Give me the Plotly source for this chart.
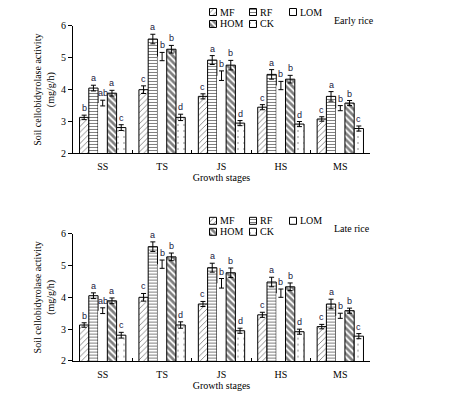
import plotly.graph_objects as go

stages = ["SS", "TS", "JS", "HS", "MS"]
treatments = ["MF", "RF", "LOM", "HOM", "CK"]

# Early rice
early_MF = [3.13, 4.00, 3.79, 3.45, 3.08]
early_RF = [4.05, 5.59, 4.93, 4.48, 3.79]
early_LOM = [3.58, 5.04, 4.44, 4.13, 3.42]
early_HOM = [3.89, 5.27, 4.77, 4.33, 3.58]
early_CK = [2.81, 3.13, 2.95, 2.92, 2.78]
early_MF_err = [0.07, 0.12, 0.08, 0.08, 0.07]
early_RF_err = [0.09, 0.15, 0.14, 0.15, 0.15]
early_LOM_err = [0.09, 0.13, 0.15, 0.13, 0.08]
early_HOM_err = [0.09, 0.12, 0.15, 0.12, 0.08]
early_CK_err = [0.09, 0.10, 0.08, 0.08, 0.08]

# Late rice
late_MF = [3.13, 4.00, 3.79, 3.45, 3.08]
late_RF = [4.05, 5.59, 4.93, 4.48, 3.79]
late_LOM = [3.58, 5.04, 4.44, 4.13, 3.42]
late_HOM = [3.89, 5.27, 4.77, 4.33, 3.58]
late_CK = [2.81, 3.13, 2.95, 2.92, 2.78]
late_MF_err = [0.07, 0.12, 0.08, 0.08, 0.07]
late_RF_err = [0.09, 0.15, 0.14, 0.15, 0.15]
late_LOM_err = [0.09, 0.13, 0.15, 0.13, 0.08]
late_HOM_err = [0.09, 0.12, 0.15, 0.12, 0.08]
late_CK_err = [0.09, 0.10, 0.08, 0.08, 0.08]

# Significance letters
letters_MF = ["b", "c", "c", "c", "c"]
letters_RF = ["a", "a", "a", "a", "a"]
letters_LOM = ["ab", "b", "b", "b", "b"]
letters_HOM = ["a", "b", "b", "b", "b"]
letters_CK = ["c", "d", "d", "d", "c"]

y_ticks = [2, 3, 4, 5, 6]
panel_labels = ["Early rice", "Late rice"]

early = [early_MF, early_RF, early_LOM, early_HOM, early_CK]
early_err = [early_MF_err, early_RF_err, early_LOM_err, early_HOM_err, early_CK_err]
late = [late_MF, late_RF, late_LOM, late_HOM, late_CK]
late_err = [late_MF_err, late_RF_err, late_LOM_err, late_HOM_err, late_CK_err]
letters = [letters_MF, letters_RF, letters_LOM, letters_HOM, letters_CK]

SERIF = "Liberation Serif, Times New Roman, serif"
SANS = "Liberation Sans, Arial, sans-serif"

pattern_shape = {"MF": "/", "RF": "-", "LOM": "", "HOM": "\\", "CK": "."}
pattern_size = {"MF": 4, "RF": 3, "LOM": 4, "HOM": 4.5, "CK": 6}
pattern_solid = {"MF": 0.22, "RF": 0.34, "LOM": 0.2, "HOM": 0.6, "CK": 0.06}
edge_width = {"MF": 1, "RF": 1, "LOM": 0, "HOM": 1, "CK": 1}


def marker_for(t):
    m = dict(color="white", line=dict(color="black" if edge_width[t] else "white",
                                      width=edge_width[t]))
    if pattern_shape[t]:
        m["pattern"] = dict(shape=pattern_shape[t], fgcolor="black", bgcolor="white",
                            size=pattern_size[t], solidity=pattern_solid[t])
    return m


# the page body adds an 8 px offset; the figure is sized so the window shows it like the reference
OFF = 8
W, H = 470 - OFF, 398 - OFF
WIN_LEFT, WIN_RIGHT = 73, 370          # plot-area x extent in window px
WIN_TOP, WIN_BOTTOM = 8, 361.3         # plot-area y extent in window px
ML = WIN_LEFT - OFF
MR = W - (WIN_RIGHT - OFF)
MT = WIN_TOP - OFF
MB = H - (WIN_BOTTOM - OFF)
PW = W - ML - MR
PH = H - MT - MB


def dom(top_px, bottom_px):
    return [(WIN_BOTTOM - bottom_px) / PH, (WIN_BOTTOM - top_px) / PH]


top_dom = dom(26, 153.5)
bot_dom = dom(233.8, 361.3)

fig = go.Figure()

panels = [
    ("x", "y", early, early_err, [12, 24], 21),
    ("x2", "y2", late, late_err, [221, 232], 229),
]

for xa, ya, vals, errs, rows, lab_y in panels:
    for i, t in enumerate(treatments):
        fig.add_trace(go.Bar(
            x=stages, y=vals[i], name=t, xaxis=xa, yaxis=ya,
            marker=marker_for(t), showlegend=False,
            error_y=dict(type="data", array=errs[i], color="black", thickness=1, width=2.5),
        ))

# bar offsets for letters
cat_w = PW / len(stages)
bargap = 0.22
bar_w = cat_w * (1 - bargap) / len(treatments)
annotations = []
for xa, ya, vals, errs, rows, lab_y in panels:
    for i, t in enumerate(treatments):
        for j, s in enumerate(stages):
            annotations.append(dict(
                x=s, y=vals[i][j] + errs[i][j], xref=xa, yref=ya,
                text=letters[i][j], showarrow=False, yanchor="bottom",
                xshift=(i - 2) * bar_w, yshift=0,
                font=dict(family=SANS, size=9, color="#202040"),
            ))

# Legend keys drawn on an invisible overlay axis measured in window pixels
leg_cols = [213, 253, 293]
KEY = 7
for p, (xa, ya, vals, errs, rows, lab_y) in enumerate(panels):
    for i, t in enumerate(treatments):
        cx = leg_cols[i % 3]
        cy = rows[i // 3]
        m = marker_for(t)
        m["line"] = dict(color="black", width=1)
        fig.add_trace(go.Bar(
            x=[cx], y=[KEY], base=[cy - KEY / 2], width=[KEY], offset=[-KEY / 2],
            xaxis="x3", yaxis="y3", marker=m, showlegend=False, hoverinfo="skip",
        ))
        annotations.append(dict(
            x=cx + KEY / 2 + 1, y=cy, xref="x3", yref="y3", text=t, showarrow=False,
            xanchor="left", yanchor="middle",
            font=dict(family=SERIF, size=10, color="black"),
        ))
    annotations.append(dict(
        x=332, y=lab_y, xref="x3", yref="y3", text=panel_labels[p], showarrow=False,
        xanchor="left", yanchor="middle", font=dict(family=SERIF, size=10, color="black"),
    ))

xcommon = dict(showline=True, linecolor="black", linewidth=1, ticks="inside", ticklen=3,
               tickcolor="black", tickson="boundaries", showgrid=False,
               tickfont=dict(family=SERIF, size=10, color="black"), ticklabelstandoff=4,
               mirror=False, zeroline=False)
ycommon = dict(range=[2, 6], tickvals=y_ticks, showline=True, linecolor="black", linewidth=1,
               ticks="outside", ticklen=4, tickcolor="black", showgrid=False, zeroline=False,
               tickfont=dict(family=SERIF, size=10, color="black"))
ytitle = dict(text="Soil cellobidyrolase activity<br>(mg/g/h)",
              font=dict(family=SERIF, size=10, color="black"), standoff=4)
xtitle = dict(text="Growth stages", font=dict(family=SERIF, size=10, color="black"), standoff=2)

fig.update_layout(
    width=W, height=H,
    margin=dict(l=ML, r=MR, t=MT, b=MB, autoexpand=False),
    paper_bgcolor="white", plot_bgcolor="rgba(0,0,0,0)",
    barmode="group", bargap=bargap, bargroupgap=0,
    showlegend=False,
    xaxis=dict(domain=[0, 1], anchor="y", title=xtitle, **xcommon),
    yaxis=dict(domain=top_dom, anchor="x", title=ytitle, **ycommon),
    xaxis2=dict(domain=[0, 1], anchor="y2", title=xtitle, **xcommon),
    yaxis2=dict(domain=bot_dom, anchor="x2", title=ytitle, **ycommon),
    xaxis3=dict(domain=[0, 1], anchor="y3", range=[WIN_LEFT, WIN_RIGHT], visible=False,
                fixedrange=True),
    yaxis3=dict(domain=[0, 1], anchor="x3", range=[WIN_BOTTOM, WIN_TOP], visible=False,
                fixedrange=True),
    annotations=annotations,
)

fig.write_html("out.html")
